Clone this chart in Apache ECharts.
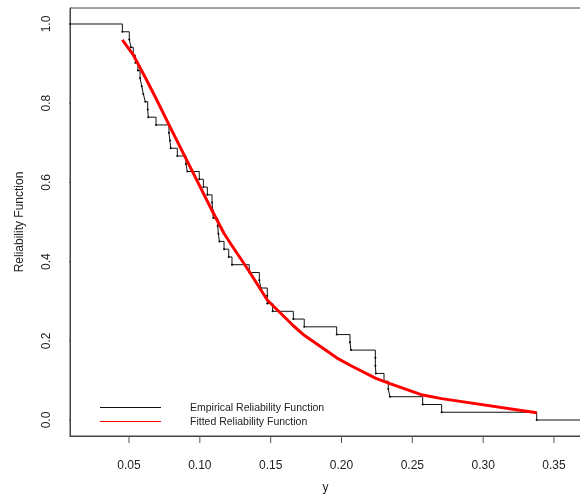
<!DOCTYPE html>
<html>
<head>
<meta charset="utf-8">
<script src="https://cdn.jsdelivr.net/npm/echarts@6/dist/echarts.min.js"></script>
<style>
html,body{margin:0;padding:0;background:#fff;}
#chart{width:580px;height:497px;}
</style>
</head>
<body>
<div id="chart"></div>
<script>
// Empirical reliability: sorted observations (jump points) and level after each jump (n = 51)
const empX = [0.0453,0.0502,0.0514,0.0530,0.0545,0.0563,0.0578,0.0590,0.0601,0.0615,
              0.0632,0.0636,0.0691,0.0782,0.0789,0.0794,0.0841,0.0902,0.0912,0.0996,
              0.1025,0.1053,0.1086,0.1091,0.1095,0.1126,0.1131,0.1138,0.1171,0.1204,
              0.1227,0.1349,0.1420,0.1430,0.1476,0.1476,0.1514,0.1660,0.1737,0.1966,
              0.2060,0.2067,0.2239,0.2239,0.2243,0.2300,0.2330,0.2342,0.2573,0.2707,
              0.3378];
const empR = [0.9804,0.9608,0.9412,0.9216,0.9020,0.8824,0.8627,0.8431,0.8235,0.8039,
              0.7843,0.7647,0.7451,0.7255,0.7059,0.6863,0.6667,0.6471,0.6275,0.6078,
              0.5882,0.5686,0.5490,0.5294,0.5098,0.4902,0.4706,0.4510,0.4314,0.4118,
              0.3922,0.3725,0.3529,0.3333,0.3137,0.2941,0.2745,0.2549,0.2353,0.2157,
              0.1961,0.1765,0.1569,0.1373,0.1176,0.0980,0.0784,0.0588,0.0392,0.0196,
              0.0000];
const empStart = [0.0, 1.0];
const empEnd = [0.40, 0.0];

// Fitted reliability curve, read at a subset of the observations (polyline)
const fitX = [0.0453,0.0530,0.0615,0.0691,0.0794,0.0902,0.0996,0.1086,0.1171,0.1227,
              0.1349,0.1476,0.1660,0.1737,0.1966,0.2067,0.2243,0.2342,0.2573,0.2707,
              0.3378];
const fitR = [0.960,0.922,0.865,0.812,0.737,0.660,0.593,0.529,0.471,0.440,
              0.375,0.303,0.238,0.214,0.157,0.137,0.105,0.092,0.063,0.054,
              0.0185];

const xTicks = [0.05,0.10,0.15,0.20,0.25,0.30,0.35];
const yTicks = [0.0,0.2,0.4,0.6,0.8,1.0];

const legendNames = ['Empirical Reliability Function','Fitted Reliability Function'];
const xName = 'y';
const yName = 'Reliability Function';

const FONT = '"Liberation Sans", Arial, sans-serif';
const X_MIN = 0.00835, X_MAX = 0.36906, Y_MIN = -0.0404, Y_MAX = 1.0404;
const GRID = {left: 70, top: 8, right: -1, bottom: 61};
const W = 580, H = 497, TICK_PX = 7;
// tick length converted to data units from the grid geometry
const TICK_DY = TICK_PX * (Y_MAX - Y_MIN) / (H - GRID.top - GRID.bottom);
const TICK_DX = TICK_PX * (X_MAX - X_MIN) / (W - GRID.left - GRID.right);

const empData = [{value: empStart, symbol: 'none'}]
  .concat(empX.map((x, i) => [x, empR[i]]))
  .concat([{value: empEnd, symbol: 'none'}]);
const fitData = fitX.map((x, i) => [x, fitR[i]]);

function tickSeries(a, b) {
  return {type: 'line', data: [a, b], symbol: 'none', showSymbol: false, clip: false, silent: true,
    lineStyle: {color: '#555', width: 1}, z: 1, tooltip: {show: false}};
}
const tickSeriesList = xTicks.map(v => tickSeries([v, Y_MIN], [v, Y_MIN - TICK_DY]))
  .concat(yTicks.map(v => tickSeries([X_MIN, v], [X_MIN - TICK_DX, v])));

const chart = echarts.init(document.getElementById('chart'), null, {renderer: 'canvas'});
chart.setOption({
  animation: false,
  backgroundColor: '#fff',
  grid: Object.assign({outerBoundsMode: 'none', containLabel: false,
         show: true, borderColor: '#444', borderWidth: 1, backgroundColor: 'transparent'}, GRID),
  xAxis: {
    type: 'value', min: X_MIN, max: X_MAX,
    name: xName, nameLocation: 'middle', nameGap: 46,
    nameTextStyle: {fontFamily: FONT, fontSize: 12, color: '#222'},
    axisLine: {show: true, onZero: false, lineStyle: {color: '#444', width: 1}},
    axisTick: {show: false},
    axisLabel: {fontFamily: FONT, fontSize: 12, color: '#222', margin: 24, customValues: xTicks,
      formatter: v => v.toFixed(2)},
    splitLine: {show: false}
  },
  yAxis: {
    type: 'value', min: Y_MIN, max: Y_MAX,
    name: yName, nameLocation: 'middle', nameGap: 44, nameRotate: 90,
    nameTextStyle: {fontFamily: FONT, fontSize: 12, color: '#222'},
    axisLine: {show: true, onZero: false, lineStyle: {color: '#444', width: 1}},
    axisTick: {show: false},
    axisLabel: {fontFamily: FONT, fontSize: 12, color: '#222', margin: 17, rotate: 90, customValues: yTicks,
      formatter: v => v.toFixed(1)},
    splitLine: {show: false}
  },
  series: [
    {
      name: legendNames[0], type: 'line', step: 'end', data: empData,
      symbol: 'circle', symbolSize: 2, showSymbol: true,
      itemStyle: {color: '#000'},
      lineStyle: {color: '#111', width: 1},
      clip: true, z: 2
    },
    {
      name: legendNames[1], type: 'line', data: fitData, smooth: false,
      showSymbol: false, symbol: 'none',
      lineStyle: {color: '#ff0000', width: 3, join: 'round'},
      z: 3
    }
  ].concat(tickSeriesList),
  graphic: [
    {type: 'line', shape: {x1: 100, y1: 407.5, x2: 161, y2: 407.5}, style: {stroke: '#111', lineWidth: 1}},
    {type: 'line', shape: {x1: 100, y1: 421.5, x2: 161, y2: 421.5}, style: {stroke: '#ff0000', lineWidth: 1}},
    {type: 'text', x: 190, y: 408, style: {text: legendNames[0], font: '10.5px ' + FONT, fill: '#222', textVerticalAlign: 'middle'}},
    {type: 'text', x: 190, y: 422, style: {text: legendNames[1], font: '10.5px ' + FONT, fill: '#222', textVerticalAlign: 'middle'}}
  ]
});
</script>
</body>
</html>
